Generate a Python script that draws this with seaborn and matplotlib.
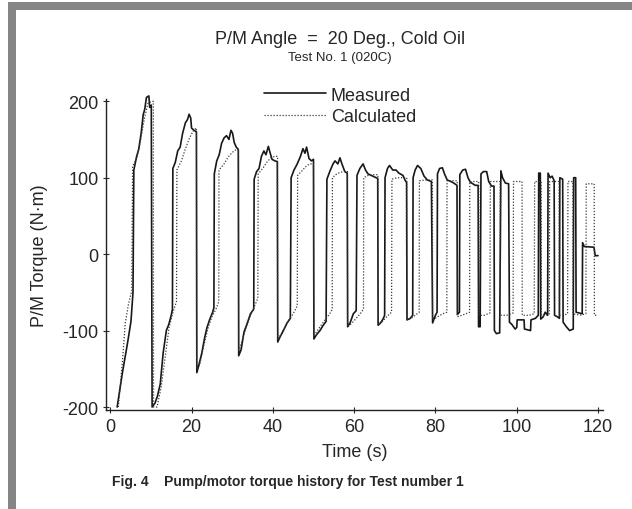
import numpy as np
import pandas as pd
import matplotlib
matplotlib.use("Agg")
import matplotlib.pyplot as plt
from matplotlib.patches import Rectangle
from matplotlib.lines import Line2D
import seaborn as sns

# measured torque history (time s, torque N.m)
meas_t = [1.7, 3.0, 4.2, 5.1, 5.6, 5.8, 6.5, 7.0, 7.6, 8.1, 8.5, 8.9, 9.5, 9.7, 10.1, 10.3,
          11.0, 11.6, 12.3, 13.0, 13.8, 14.4, 15.0, 15.3, 15.4, 16.0, 16.6, 17.2, 17.8, 18.5, 19.0, 19.4, 19.8, 20.0, 20.6, 21.2, 21.3,
          21.8, 22.5, 23.2, 23.8, 24.5, 25.2, 25.5, 25.6, 26.2, 26.8, 27.4, 28.0, 28.6, 29.2, 29.7, 30.1, 30.5, 31.0, 31.5, 31.6,
          32.2, 32.9, 33.6, 34.5, 35.3, 35.4, 36.0, 36.6, 37.2, 37.8, 38.3, 38.9, 39.3, 39.8, 40.5, 41.1, 41.2,
          41.8, 42.6, 43.5, 44.3, 44.5, 45.2, 46.0, 46.8, 47.4, 47.9, 48.3, 48.9, 49.5, 50.0, 50.1,
          50.8, 51.6, 52.4, 53.1, 53.3, 54.0, 54.8, 55.3, 56.0, 56.5, 57.0, 57.7, 58.3, 58.4,
          59.0, 59.8, 60.5, 60.7, 61.4, 62.2, 62.8, 63.4, 64.2, 65.0, 65.8, 65.9,
          66.5, 67.1, 67.5, 67.6, 68.2, 68.7, 69.5, 70.3, 71.0, 72.0, 72.6, 72.9, 73.0,
          73.8, 74.4, 74.5, 75.0, 75.6, 76.4, 77.2, 78.0, 79.0, 79.3,
          80.0, 80.4, 80.5, 81.0, 81.7, 82.3, 82.9, 83.8, 84.5, 85.3, 85.4,
          85.9, 86.0, 86.7, 87.4, 88.0, 88.6, 89.2, 89.8, 90.5, 90.6,
          91.0, 91.2, 91.8, 92.6, 93.1, 93.8, 94.4, 94.5, 95.0, 95.8, 96.1, 96.5, 97.2, 98.0, 98.2,
          98.8, 99.6, 100.0, 100.1, 101.8, 101.9, 103.4, 103.5, 104.6, 105.3, 105.4, 105.8, 105.9,
          106.5, 107.0, 107.6, 107.7, 108.2, 108.7, 109.2, 109.3, 110.0, 110.5, 110.6, 111.3, 111.4,
          112.2, 113.0, 113.9, 114.0, 114.5, 114.6, 116.1, 116.2, 116.6, 119.0, 119.3, 120.0]
meas_v = [-200, -155, -118, -88, -50, 110, 128, 137, 158, 182, 190, 205, 207, 192, 195, -200,
          -195, -186, -170, -130, -100, -92, -80, -72, 112, 120, 135, 140, 158, 172, 176, 183, 178, 165, 162, 160, -155,
          -145, -130, -110, -96, -85, -76, -70, 105, 122, 130, 145, 152, 155, 150, 162, 158, 146, 140, 137, -133,
          -125, -102, -92, -78, -72, 98, 108, 112, 128, 135, 130, 141, 133, 124, 122, 121, -115,
          -108, -100, -90, -84, 100, 110, 118, 128, 138, 132, 140, 125, 122, 124, -111,
          -105, -100, -93, -88, 98, 108, 118, 122, 118, 126, 118, 108, 106, -95,
          -90, -78, -74, 103, 112, 118, 110, 105, 103, 101, 99, -93,
          -90, -85, -80, 100, 112, 116, 110, 110, 106, 103, 96, 94, -86,
          -84, -80, 100, 110, 116, 112, 102, 97, 95, -90,
          -80, -76, 105, 112, 113, 104, 97, 95, 93, 90, -79,
          -76, 104, 110, 111, 100, 94, 92, 90, 90, -95,
          -95, 105, 108, 108, 95, 89, 89, -100, -104, -103, 109, 100, 93, 92, -89,
          -92, -98, -96, -86, -86, -98, -100, -86, -84, -80, 106, 106, -85,
          -82, -76, -80, 106, 100, 102, 96, -80, -82, -84, 100, 98, -89,
          -95, -100, -98, 100, 100, -76, -78, 15, 10, 9, -2, -2]

# calculated torque history
calc_t = [2.0, 3.0, 3.7, 4.5, 5.3, 5.5, 6.5, 7.5, 8.5, 9.3, 10.6, 10.65,
          11.5, 12.5, 13.5, 14.5, 15.5, 16.3, 16.4, 17.5, 18.5, 19.5, 20.5, 21.2, 21.25,
          22.0, 23.0, 24.0, 25.0, 26.0, 26.7, 26.75, 28.0, 29.0, 30.0, 31.0, 31.55, 31.6,
          32.5, 33.5, 34.5, 35.5, 36.3, 36.4, 37.5, 38.5, 39.5, 40.5, 41.15, 41.2,
          42.0, 43.0, 44.0, 45.0, 46.0, 46.1, 47.0, 48.0, 49.0, 50.0, 50.1,
          51.0, 52.0, 53.0, 54.0, 54.6, 54.65, 55.5, 56.5, 57.5, 58.35, 58.4,
          59.5, 60.5, 61.5, 62.3, 62.35, 63.5, 64.5, 65.85, 65.9,
          67.0, 68.0, 69.2, 69.3, 70.5, 72.0, 72.95, 73.0,
          74.0, 75.0, 76.0, 76.05, 77.5, 79.25, 79.3,
          80.5, 81.8, 82.8, 82.85, 84.0, 85.35, 85.4,
          86.5, 87.5, 88.4, 88.45, 90.65, 90.7,
          92.0, 93.4, 93.5, 95.9, 95.95,
          97.5, 99.1, 99.2, 101.3, 101.35,
          103.0, 104.3, 104.4, 106.0, 106.05,
          107.0, 108.0, 108.1, 110.4, 110.45,
          111.5, 112.5, 112.6, 113.8, 113.85,
          115.5, 117.0, 117.1, 119.05, 119.1, 120.0]
calc_v = [-200, -140, -90, -65, -48, 115, 125, 150, 180, 198, 200, -200,
          -200, -175, -135, -95, -75, -62, 110, 122, 138, 152, 162, 165, -150,
          -145, -120, -98, -82, -72, -62, 110, 118, 127, 133, 137, 137, -128,
          -112, -95, -80, -68, -58, 105, 112, 120, 126, 128, 128, -112,
          -105, -95, -86, -78, -68, 103, 108, 114, 118, 118, -106,
          -100, -92, -85, -78, -72, 100, 104, 107, 108, 108, -95,
          -90, -84, -78, -72, 100, 103, 104, 104, -92,
          -88, -82, -76, 98, 100, 100, 100, -86,
          -84, -80, -76, 96, 97, 97, -86,
          -82, -78, -76, 96, 96, 96, -82,
          -80, -78, -76, 95, 95, -80,
          -80, -77, 95, 95, -80,
          -80, -77, 95, 95, -80,
          -80, -78, 95, 95, -80,
          -80, -78, 95, 95, -80,
          -80, -78, 95, 95, -78,
          -80, -78, 92, 92, -80, -80]

series_names = ["Measured", "Calculated"]
x_ticks = [0, 20, 40, 60, 80, 100, 120]
y_ticks = [-200, -100, 0, 100, 200]

sns.set_style("ticks")
plt.rcParams['font.family'] = ['Liberation Sans', 'DejaVu Sans']
plt.rcParams['axes.unicode_minus'] = False

fig = plt.figure(figsize=(6.32, 5.1), dpi=100)
ax = fig.add_axes([0.168, 0.194, 0.786, 0.61])

line_col = "#181818"
dot_col = "#3a3a3a"
sns.lineplot(x=meas_t, y=meas_v, ax=ax, color=line_col, lw=1.2,
             estimator=None, sort=False, clip_on=False)
sns.lineplot(x=calc_t, y=calc_v, ax=ax, color=dot_col, lw=0.9,
             linestyle=(0, (1, 1.4)), estimator=None, sort=False, clip_on=False)

ax.set_xlim(-1, 121.2)
ax.set_ylim(-204, 203)
ax.set_xticks(x_ticks)
ax.set_yticks(y_ticks)
ax.tick_params(axis='both', direction='inout', length=5, width=0.8, labelsize=13, pad=3)
sns.despine(ax=ax)
for s in ['left', 'bottom']:
    ax.spines[s].set_linewidth(1.0)
    ax.spines[s].set_color("#222222")

ax.set_xlabel("Time (s)", fontsize=13)
ax.xaxis.set_label_coords(0.5, -0.105)
ax.set_ylabel("P/M Torque (N\u00b7m)", fontsize=13)
ax.yaxis.set_label_coords(-0.118, 0.5)

# legend
handles = [Line2D([], [], color=line_col, lw=1.2),
           Line2D([], [], color=dot_col, lw=0.9, linestyle=(0, (1, 1.4)))]
fig.legend(handles, series_names, loc='upper left', bbox_to_anchor=(0.418, 0.828),
           frameon=False, fontsize=13, handlelength=3.4, handletextpad=0.3,
           labelspacing=0.25, borderpad=0, borderaxespad=0)

fig.text(0.538, 0.922, "P/M Angle  =  20 Deg., Cold Oil", ha='center', va='center', fontsize=13)
fig.text(0.538, 0.886, "Test No. 1 (020C)", ha='center', va='center', fontsize=9.5)
fig.text(0.455, 0.055, "Fig. 4    Pump/motor torque history for Test number 1",
         ha='center', va='center', fontsize=10, fontweight='bold')

# grey frame of the scan
fig.add_artist(Rectangle((8 / 632, 1 - 11 / 510), 1, 8 / 510, transform=fig.transFigure,
                         color="#858585", lw=0))
fig.add_artist(Rectangle((8 / 632, 0), 8 / 632, 1 - 3 / 510, transform=fig.transFigure,
                         color="#858585", lw=0))

fig.savefig("out.png", dpi=100)
